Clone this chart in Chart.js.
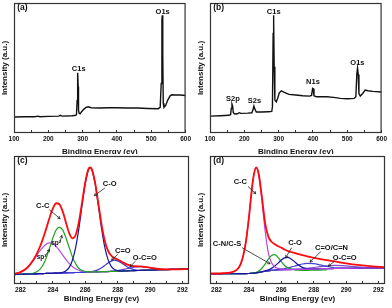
<!DOCTYPE html>
<html>
<head>
<meta charset="utf-8">
<script src="https://cdn.jsdelivr.net/npm/chart.js@4.4.1/dist/chart.umd.min.js"></script>
<style>
  body { margin: 0; background: #fff; }
  .cell { position: absolute; width: 196px; height: 154px; overflow: hidden; }
  canvas { display: block; }
</style>
</head>
<body>
<div class="cell" style="left:0;top:0"><canvas id="pa" width="196" height="157"></canvas></div>
<div class="cell" style="left:196px;top:0"><canvas id="pb" width="196" height="157"></canvas></div>
<div class="cell" style="left:0;top:154px"><canvas id="pc" width="196" height="154"></canvas></div>
<div class="cell" style="left:196px;top:154px"><canvas id="pd" width="196" height="154"></canvas></div>
<script>
// (a) survey
const surveyAx = [100,130,160,170,175,200,230,235,240,270,280,282,284,285,286,287,288,290,293,297,303,310,316,325,350,375,400,430,460,490,520,526,529,531,532,533,534,535,537,542,548,555,560,570,585,600]
const surveyAy = [12.3,12.5,12.5,13.0,12.5,12.8,13.0,13.6,13.0,13.3,13.6,14.3,25,45.8,46.3,35.5,17.6,15.1,14.8,16.4,18.2,19.7,20.2,19.4,19.2,19.4,19.4,19.2,19.2,18.9,18.7,19.7,38.1,86.7,90.5,90.5,61.1,22.8,19.7,21.2,25.3,28.6,29.4,29.2,29.2,28.9]

// (b) survey
const surveyBx = [100,130,155,160,162,164,166,168,172,180,185,190,210,222,225,228,231,235,250,270,280,282,284,285,286,287,289,293,297,302,308,315,330,350,370,390,396,399,401,403,410,440,460,480,500,520,525,528,530,532,534,538,545,552,560,575,600]
const surveyBy = [13.0,13.3,13.6,14.1,18.9,22.3,20.7,15.6,14.6,14.8,15.6,15.1,15.3,15.6,17.6,20.7,18.2,16.1,16.1,16.4,16.6,20.2,76.5,90.5,86.7,50.9,25.3,24.0,26.6,30.9,32.5,31.5,29.7,29.2,28.6,28.4,28.9,34.3,34.0,28.6,27.9,27.9,27.4,26.6,26.3,26.6,27.9,46,50,45,30.4,28.4,30.4,33.0,32.5,32.0,31.5]

// (c) C1s fit
const cEnergy = [281.6,282.0,282.4,282.8,283.2,283.5,283.8,284.0,284.2,284.4,284.6,284.8,285.0,285.2,285.4,285.6,285.8,286.0,286.2,286.3,286.4,286.6,286.8,287.0,287.2,287.4,287.6,287.8,288.0,288.3,288.6,289.0,289.4,289.8,290.4,291.0,291.6,292.4]
const cFit  = [7.8,9.3,12.5,18.9,29.1,39.7,52.0,59.0,63.1,62.3,56.9,48.3,40.0,35.7,38.1,48.1,63.6,79.5,89.9,91.0,89.8,79.6,63.4,46.7,33.8,26.0,22.1,20.4,19.1,17.0,15.1,13.9,13.7,13.1,11.9,11.5,11.5,11.8]
const cSp3  = [7.8,9.3,12.5,18.4,25.8,30.3,32.1,31.4,29.4,26.2,22.7,19.2,16.1,13.7,11.9,10.7,10.0,9.6,9.5,9.4,9.4,9.4,9.5,9.6,9.7,9.7,9.8,9.9,10.0,10.1,10.3,10.4,10.6,10.8,11.0,11.3,11.5,11.8]
const cSp2  = [7.4,7.6,7.75,8.4,11.4,17.6,28.2,36.0,42.2,44.5,42.3,36.3,28.7,21.4,15.9,12.3,10.5,9.7,9.5,9.4,9.4,9.4,9.5,9.6,9.7,9.7,9.8,9.9,10.0,10.1,10.3,10.4,10.6,10.8,11.0,11.3,11.5,11.8]
const cCO   = [7.4,7.6,7.7,7.9,8.1,8.2,8.3,8.4,8.5,8.6,9.1,10.2,12.8,18.4,28.3,43.1,61.3,78.6,89.4,90.85,89.5,78.8,61.7,43.7,29.0,19.2,13.8,11.4,10.5,10.1,10.3,10.4,10.6,10.8,11.0,11.3,11.5,11.8]
const cCdO  = [7.4,7.6,7.7,7.9,8.1,8.2,8.3,8.4,8.5,8.5,8.6,8.7,8.8,8.9,9.0,9.0,9.1,9.2,9.4,9.5,9.7,10.2,11.2,12.6,14.5,16.4,17.9,18.6,18.1,15.9,13.3,11.2,10.7,10.8,11.0,11.3,11.5,11.8]
const cOCO  = [7.4,7.6,7.7,7.9,8.1,8.2,8.3,8.4,8.5,8.5,8.6,8.7,8.8,8.9,9.0,9.0,9.1,9.2,9.3,9.35,9.4,9.4,9.5,9.6,9.7,9.8,10.0,10.2,10.5,11.2,12.1,13.1,13.6,13.1,11.9,11.45,11.5,11.8]
const cBase = [7.4,7.6,7.7,7.9,8.1,8.2,8.3,8.4,8.5,8.5,8.6,8.7,8.8,8.9,9.0,9.0,9.1,9.2,9.3,9.35,9.4,9.4,9.5,9.6,9.7,9.7,9.8,9.9,10.0,10.1,10.3,10.4,10.6,10.8,11.0,11.3,11.5,11.8]

// (d) C1s fit
const dEnergy = [281.6,282.0,282.4,282.8,283.2,283.5,283.8,284.0,284.2,284.3,284.45,284.6,284.8,285.0,285.2,285.4,285.6,285.8,286.0,286.2,286.4,286.6,286.8,287.0,287.3,287.6,288.0,288.4,288.8,289.3,289.8,290.4,291.0,291.6,292.4]
const dFit  = [8.2,8.2,8.4,8.9,10.6,15.8,31.8,51.8,76.0,85.1,91.1,86.5,68.3,47.8,37.0,33.0,31.0,29.5,28.4,27.0,25.8,25.0,24.3,23.5,22.5,21.6,20.4,19.5,18.6,17.6,16.5,15.4,14.5,13.8,13.2]
const dCC   = [7.9,7.9,8.3,8.8,10.5,15.6,31.6,51.7,75.9,84.9,90.7,85.4,65.4,41.8,24.4,16.6,13.3,12.2,11.6,11.2,11.3,11.3,11.4,11.4,11.5,11.6,11.8,11.9,12.0,12.1,12.2,12.3,12.5,12.5,12.6]
const dCN   = [7.9,7.9,8.0,8.0,8.0,8.1,8.1,8.2,8.5,8.7,9.1,10.1,12.3,15.6,19.5,22.3,22.9,20.8,17.4,14.5,12.7,11.6,11.1,10.8,10.7,10.7,10.8,10.9,11.0,null,null,null,null,null,null]
const dCO   = [7.9,7.9,8.0,8.0,8.0,8.1,8.1,8.2,8.4,8.5,8.7,9.1,9.6,10.2,11.0,12.2,14.0,16.3,18.7,20.4,20.8,19.6,17.7,15.4,13.0,12.0,11.8,11.9,12.0,12.1,12.2,12.3,12.5,12.5,12.6]
const dCdN  = [7.9,7.9,8.0,8.0,8.0,8.1,8.1,8.2,8.4,8.5,8.7,9.0,9.5,9.9,10.3,10.6,11.0,11.3,11.6,12.0,12.6,13.2,13.9,14.6,15.6,16.1,15.9,14.9,13.7,12.7,12.35,12.3,12.5,12.5,12.6]
const dOCO  = [7.9,7.9,8.0,8.0,8.0,8.1,8.1,8.2,8.4,8.5,8.7,9.0,9.5,9.9,10.3,10.6,10.8,11.0,11.1,11.2,11.3,11.4,11.5,11.6,11.85,12.2,12.85,13.5,14.2,14.55,14.4,13.6,13.05,12.7,12.6]
const dBase = [7.9,7.9,8.0,8.0,8.0,8.1,8.1,8.2,8.4,8.5,8.7,9.0,9.5,9.9,10.3,10.6,10.8,11.0,11.1,11.2,11.3,11.3,11.4,11.4,11.5,11.6,11.8,11.9,12.0,12.1,12.2,12.3,12.5,12.5,12.6]

const FONT = '"Liberation Sans", Arial, sans-serif'
Chart.defaults.font.family = FONT
Chart.defaults.color = '#111'
Chart.defaults.animation = false

const pts = (xs, ys) => xs.map((x, i) => ({ x: x, y: ys[i] }))

// frame, peak labels and arrows
const notes = {
  id: 'notes',
  afterDatasetsDraw(chart, args, opts) {
    const { ctx, chartArea: a, scales: { x, y } } = chart
    ctx.save()
    ctx.strokeStyle = '#333'
    ctx.lineWidth = 1.2
    ctx.strokeRect(a.left + 0.5, a.top + 0.5, a.right - a.left - 1, a.bottom - a.top - 1)
    ctx.fillStyle = '#111'
    ctx.textBaseline = 'middle'
    for (const l of (opts.labels || [])) {
      ctx.font = 'bold ' + (l.size || 7.5) + 'px ' + FONT
      ctx.textAlign = l.align || 'center'
      ctx.fillText(l.text, x.getPixelForValue(l.x), y.getPixelForValue(l.y))
    }
    ctx.lineWidth = 0.8
    ctx.strokeStyle = '#222'
    for (const r of (opts.arrows || [])) {
      const x1 = x.getPixelForValue(r[0]), y1 = y.getPixelForValue(r[1])
      const x2 = x.getPixelForValue(r[2]), y2 = y.getPixelForValue(r[3])
      const ang = Math.atan2(y2 - y1, x2 - x1)
      ctx.beginPath()
      ctx.moveTo(x1, y1)
      ctx.lineTo(x2, y2)
      ctx.moveTo(x2 - 3 * Math.cos(ang - 0.5), y2 - 3 * Math.sin(ang - 0.5))
      ctx.lineTo(x2, y2)
      ctx.lineTo(x2 - 3 * Math.cos(ang + 0.5), y2 - 3 * Math.sin(ang + 0.5))
      ctx.stroke()
    }
    ctx.restore()
  }
}

function makeChart(id, datasets, xr, note, bottomRow) {
  const h = 24
  new Chart(document.getElementById(id), {
    type: 'line',
    data: { datasets: datasets },
    plugins: [notes],
    options: {
      responsive: false,
      layout: { padding: { top: bottomRow ? 2 : 3, right: 7, left: 0, bottom: 0 } },
      plugins: { legend: { display: false }, tooltip: { enabled: false }, notes: note },
      elements: { point: { radius: 0 } },
      scales: {
        x: {
          type: 'linear', min: xr[0], max: xr[1],
          ticks: {
            stepSize: xr[2], includeBounds: false, autoSkip: false, maxRotation: 0, padding: 5,
            font: { size: 6.5, weight: 'bold' }, color: '#111',
            callback: v => (Math.abs(v % xr[3]) < 1e-6 ? v : '')
          },
          grid: { drawOnChartArea: false, tickLength: -3, color: '#333' },
          border: { display: false },
          title: { display: true, text: 'Binding Energy (ev)', font: { size: 8, weight: 'bold' }, color: '#111',
                   padding: { top: 0, bottom: bottomRow ? 4 : 0 } },
          afterFit: s => { s.height = h }
        },
        y: {
          min: 0, max: 100,
          ticks: { display: false },
          grid: { display: false },
          border: { display: false },
          title: { display: true, text: 'Intensity (a.u.)', font: { size: 8, weight: 'bold' }, color: '#111', padding: 0 },
          afterFit: s => { s.width = 14 }
        }
      }
    }
  })
}

const line = (xs, ys, color, w) => ({ data: pts(xs, ys), borderColor: color, borderWidth: w || 1.2, fill: false, cubicInterpolationMode: 'monotone' })
const survey = (xs, ys) => ({ data: pts(xs, ys), borderColor: '#111', borderWidth: 1.4, fill: false, tension: 0 })

makeChart('pa', [survey(surveyAx, surveyAy)], [100, 600, 50, 100], {
  labels: [
    { text: '(a)', x: 109.5, y: 96.4, align: 'left', size: 8.5 },
    { text: 'C1s', x: 288.6, y: 49.1 },
    { text: 'O1s', x: 533.3, y: 93.1 }
  ]
}, false)

makeChart('pb', [survey(surveyBx, surveyBy)], [100, 600, 50, 100], {
  labels: [
    { text: '(b)', x: 109.5, y: 96.4, align: 'left', size: 8.5 },
    { text: 'C1s', x: 285.7, y: 93.1 },
    { text: 'S2p', x: 166.7, y: 26.1 },
    { text: 'S2s', x: 229.5, y: 24.6 },
    { text: 'N1s', x: 400, y: 38.9 },
    { text: 'O1s', x: 529.5, y: 54 }
  ]
}, false)

makeChart('pc', [
  line(cEnergy, cFit, '#ff0a0a', 1.8),
  line(cEnergy, cCO, '#16169e'),
  line(cEnergy, cSp2, '#1ea51e'),
  line(cEnergy, cSp3, '#b54ce8'),
  line(cEnergy, cCdO, '#3c3cd2'),
  line(cEnergy, cOCO, '#6a3cc8'),
  line(cEnergy, cBase, '#5530d0')
], [281.6, 292.4, 1, 2], {
  labels: [
    { text: '(c)', x: 281.8, y: 96.4, align: 'left', size: 8.5 },
    { text: 'C-C', x: 283.37, y: 61.1 },
    { text: 'sp\u00b2', x: 284.2, y: 31.6, size: 6.5 },
    { text: 'sp\u00b3', x: 283.3, y: 20.8, size: 6.5 },
    { text: 'C-O', x: 287.5, y: 78.4 },
    { text: 'C=O', x: 288.32, y: 25.8 },
    { text: 'O-C=O', x: 289.67, y: 20.3 }
  ],
  arrows: [
    [283.78, 58.0, 284.45, 51.0],
    [284.45, 33.0, 284.55, 38.0],
    [283.55, 22.5, 283.8, 27.0],
    [287.21, 75.0, 286.55, 69.0],
    [288.01, 23.2, 287.62, 18.6],
    [289.1, 17.9, 288.75, 13.5]
  ]
}, true)

makeChart('pd', [
  line(dEnergy, dFit, '#ff0a0a', 1.8),
  line(dEnergy, dCC, '#bb44e6'),
  line(dEnergy, dCO, '#16169e'),
  line(dEnergy, dCN, '#1ea51e'),
  line(dEnergy, dCdN, '#4545cc'),
  line(dEnergy, dOCO, '#7a4cd0'),
  line(dEnergy, dBase, '#3a30b8')
], [281.6, 292.4, 1, 2], {
  labels: [
    { text: '(d)', x: 281.8, y: 96.4, align: 'left', size: 8.5 },
    { text: 'C-C', x: 283.47, y: 79.5 },
    { text: 'C-N/C-S', x: 282.65, y: 31.6 },
    { text: 'C-O', x: 286.85, y: 32.1 },
    { text: 'C=O/C=N', x: 289.1, y: 28.4 },
    { text: 'O-C=O', x: 289.91, y: 20.5 }
  ],
  arrows: [
    [283.94, 76.3, 284.43, 70.5],
    [283.57, 28.4, 285.31, 15.8],
    [286.64, 28.4, 286.27, 20.5],
    [288.44, 25.3, 287.77, 17.1],
    [289.3, 17.9, 288.9, 13.9]
  ]
}, true)
</script>
</body>
</html>
